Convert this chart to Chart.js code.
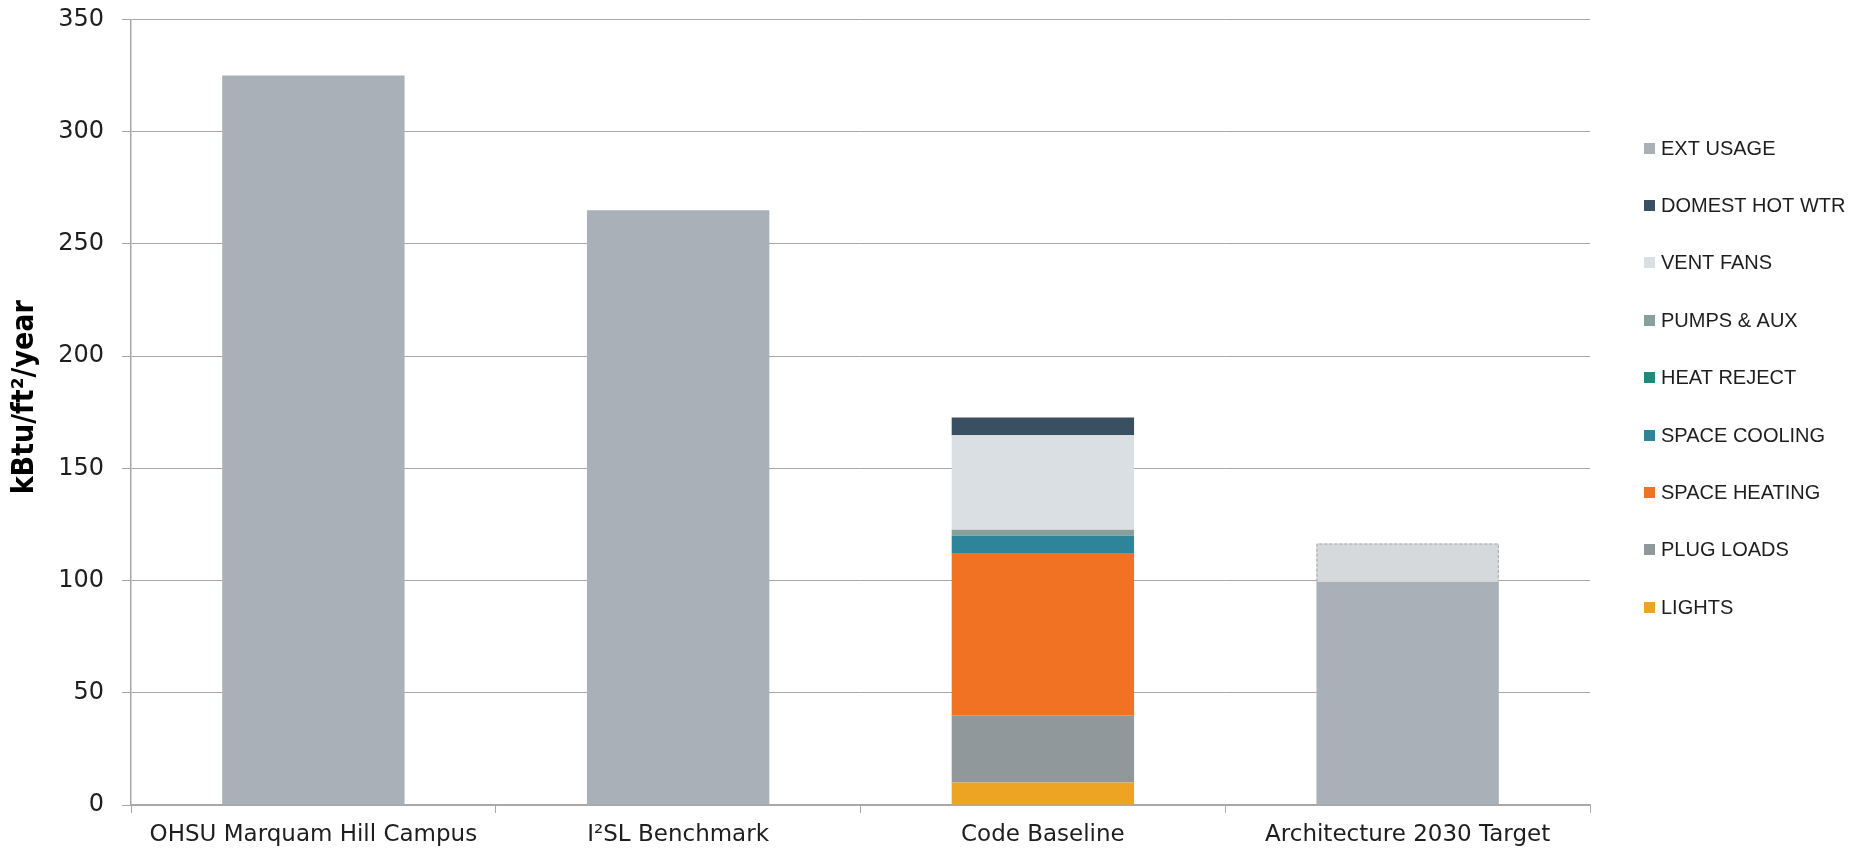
<!DOCTYPE html>
<html>
<head>
<meta charset="utf-8">
<title>Energy Use Intensity</title>
<script src="https://cdn.jsdelivr.net/npm/chart.js@4.4.1/dist/chart.umd.min.js"></script>
<style>
  html, body { margin: 0; padding: 0; background: #ffffff; }
  #wrap { width: 1866px; height: 848px; }
</style>
</head>
<body>
<div id="wrap"><canvas id="eui" width="1866" height="848"></canvas></div>
<script>
// Categories along the x axis
const categories = ['OHSU Marquam Hill Campus', 'I\u00B2SL Benchmark', 'Code Baseline', 'Architecture 2030 Target'];

// End-use breakdown, kBtu/ft²/year (bottom of stack first)
const lights      = [0, 0, 10, 0];
const plugLoads   = [0, 0, 30, 0];
const spaceHeat   = [0, 0, 72, 0];
const spaceCool   = [0, 0, 8, 0];
const heatReject  = [0, 0, 0, 0];
const pumpsAux    = [0, 0, 2.7, 0];
const ventFans    = [0, 0, 42, 0];
const domHotWater = [0, 0, 8, 0];
const extUsage    = [325, 265, 0, 99.5];
// Additional allowance above the 2030 target (outlined, not in legend)
const targetBand  = [0, 0, 0, 17];

// Y axis ticks and title
const yTicks = [0, 50, 100, 150, 200, 250, 300, 350];
const yTitle = 'kBtu/ft\u00B2/year';

const seriesLabels = ['LIGHTS', 'PLUG LOADS', 'SPACE HEATING', 'SPACE COOLING', 'HEAT REJECT',
                      'PUMPS & AUX', 'VENT FANS', 'DOMEST HOT WTR', 'EXT USAGE'];
const seriesData = [lights, plugLoads, spaceHeat, spaceCool, heatReject, pumpsAux, ventFans, domHotWater, extUsage];
const seriesColors = ['#eda423', '#91989b', '#f27224', '#2e8499', '#1f8a7a', '#88a09c', '#d9dfe3', '#3a4f5f', '#aab0b7'];

const datasets = seriesLabels.map((label, i) => ({
  label: label,
  data: seriesData[i],
  backgroundColor: seriesColors[i],
  borderWidth: 0,
  stack: 'eui',
  inLegend: true
}));
datasets.push({
  label: '',
  data: targetBand,
  backgroundColor: '#d5d9dc',
  borderWidth: 0,
  stack: 'eui',
  inLegend: false,
  dashedOutline: true
});

// Dashed outline for the target band
const dashedOutline = {
  id: 'dashedOutline',
  afterDatasetsDraw(chart) {
    const ctx = chart.ctx;
    chart.data.datasets.forEach((ds, di) => {
      if (!ds.dashedOutline) return;
      const meta = chart.getDatasetMeta(di);
      meta.data.forEach((el, j) => {
        if (!ds.data[j]) return;
        const p = el.getProps(['x', 'y', 'base', 'width'], true);
        const l = p.x - p.width / 2, r = p.x + p.width / 2;
        ctx.save();
        ctx.strokeStyle = '#a3a7ab';
        ctx.lineWidth = 1;
        ctx.setLineDash([3, 2]);
        ctx.beginPath();
        ctx.moveTo(l + 0.5, p.base);
        ctx.lineTo(l + 0.5, p.y + 0.5);
        ctx.lineTo(r - 0.5, p.y + 0.5);
        ctx.lineTo(r - 0.5, p.base);
        ctx.stroke();
        ctx.restore();
      });
    });
  }
};

// Rotated y-axis title, sitting slightly above the plot's mid-height
const axisTitle = {
  id: 'axisTitle',
  afterDraw(chart) {
    const ctx = chart.ctx;
    const a = chart.chartArea;
    ctx.save();
    ctx.translate(25, (a.top + a.bottom) / 2 - 15);
    ctx.rotate(-Math.PI / 2);
    ctx.font = 'bold 30px "DejaVu Sans Condensed", "DejaVu Sans", sans-serif';
    ctx.fillStyle = '#000000';
    ctx.textAlign = 'center';
    ctx.textBaseline = 'middle';
    ctx.fillText(yTitle, 0, 0);
    ctx.restore();
  }
};

// Vertical legend on the right, top entry = top of stack
const sideLegend = {
  id: 'sideLegend',
  afterDraw(chart) {
    const ctx = chart.ctx;
    const items = chart.data.datasets.filter(d => d.inLegend).slice().reverse();
    const boxX = 1644, textX = 1661, firstY = 148, step = 57.4, box = 11;
    ctx.save();
    ctx.font = '20px "Liberation Sans", Arial, sans-serif';
    ctx.textBaseline = 'middle';
    ctx.textAlign = 'left';
    items.forEach((d, i) => {
      const cy = firstY + i * step;
      ctx.fillStyle = d.backgroundColor;
      ctx.fillRect(boxX, Math.round(cy - box / 2), box, box);
      ctx.fillStyle = '#1e1e1e';
      ctx.fillText(d.label, textX, cy + 1);
    });
    ctx.restore();
  }
};

const gridColor = '#a8a8a8';

new Chart(document.getElementById('eui'), {
  type: 'bar',
  data: { labels: categories, datasets: datasets },
  plugins: [dashedOutline, axisTitle, sideLegend],
  options: {
    responsive: false,
    animation: false,
    devicePixelRatio: 1,
    layout: { padding: { top: 19.5, right: 276, bottom: 0, left: 0 } },
    datasets: { bar: { categoryPercentage: 1.0, barPercentage: 0.5 } },
    plugins: {
      legend: { display: false },
      tooltip: { enabled: false }
    },
    scales: {
      x: {
        stacked: true,
        afterFit(scale) { scale.height = 43; },
        grid: { offset: true, drawOnChartArea: false, drawTicks: true, tickLength: 8, color: gridColor, lineWidth: 1 },
        border: { display: true, color: gridColor, width: 1.5 },
        ticks: {
          color: '#1e1e1e',
          padding: 8,
          maxRotation: 0,
          autoSkip: false,
          font: { family: '"DejaVu Sans", Verdana, sans-serif', size: 23 }
        }
      },
      y: {
        stacked: true,
        min: yTicks[0],
        max: yTicks[yTicks.length - 1],
        afterFit(scale) {
          scale.width = 131;
          scale.paddingTop = 0;
          scale.paddingBottom = 0;
        },
        afterBuildTicks(scale) { scale.ticks = yTicks.map(v => ({ value: v })); },
        grid: { color: gridColor, lineWidth: 1, drawTicks: true, tickLength: 9 },
        border: { display: true, color: gridColor, width: 1.5 },
        ticks: {
          color: '#1e1e1e',
          padding: 18,
          font: { family: '"DejaVu Sans", Verdana, sans-serif', size: 24 }
        }
      }
    }
  }
});
</script>
</body>
</html>
